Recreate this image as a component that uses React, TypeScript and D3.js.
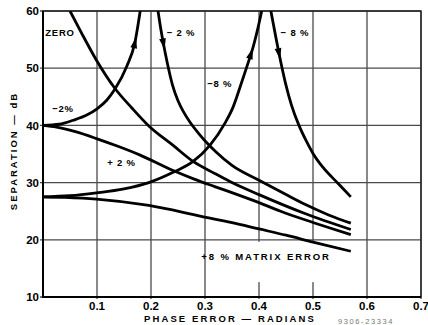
import React, { useEffect, useRef } from 'react'
import * as d3 from 'd3'

const W = 428
const H = 325

const xTicks = [0.1, 0.2, 0.3, 0.4, 0.5, 0.6, 0.7]
const yTicks = [10, 20, 30, 40, 50, 60]

// phase error (radians) / separation (dB)
const zeroX = [0.05, 0.07, 0.099, 0.133, 0.165, 0.196, 0.241, 0.278, 0.318, 0.346, 0.4, 0.485, 0.57]
const zeroY = [60, 56.4, 51.4, 46.5, 43.0, 39.9, 36.5, 33.7, 31.6, 30.2, 27.9, 24.6, 21.8]

const minus2UpX = [0, 0.03, 0.056, 0.081, 0.1, 0.118, 0.133, 0.155, 0.17, 0.18]
const minus2UpY = [40, 40.2, 40.9, 41.8, 42.9, 44.4, 46.3, 50.3, 54.4, 60]

const minus2DownX = [0.213, 0.217, 0.222, 0.23, 0.24, 0.25, 0.26, 0.272, 0.29, 0.306, 0.32, 0.35, 0.4, 0.45, 0.485, 0.53, 0.57]
const minus2DownY = [60, 57.5, 54.8, 51.0, 47.0, 44.3, 42.4, 40.6, 38.4, 36.7, 35.4, 33.0, 30.4, 27.9, 26.2, 24.3, 22.9]

const plus2X = [0, 0.025, 0.06, 0.099, 0.14, 0.18, 0.241, 0.28, 0.318, 0.36, 0.4, 0.44, 0.485, 0.53, 0.57]
const plus2Y = [40, 39.7, 38.9, 37.7, 36.3, 34.8, 32.1, 30.6, 29.3, 27.9, 26.5, 25.0, 23.5, 22.1, 20.9]

const minus8UpX = [0, 0.05, 0.099, 0.15, 0.196, 0.241, 0.278, 0.309, 0.337, 0.352, 0.365, 0.378, 0.39, 0.398, 0.405]
const minus8UpY = [27.5, 27.7, 28.2, 28.9, 30.0, 31.8, 33.7, 36.5, 40.4, 43.2, 46.7, 50.4, 54.0, 57.0, 60]

const minus8DownX = [0.422, 0.43, 0.437, 0.449, 0.46, 0.474, 0.488, 0.5, 0.519, 0.547, 0.57]
const minus8DownY = [60, 56.0, 52.6, 47.4, 43.6, 40.0, 37.2, 35.1, 32.6, 29.8, 27.5]

const plus8X = [0, 0.04, 0.099, 0.196, 0.293, 0.35, 0.4, 0.45, 0.5, 0.57]
const plus8Y = [27.5, 27.4, 27.1, 26.0, 24.1, 23.0, 21.9, 20.8, 19.6, 18.0]

const curves = [
    { xs: zeroX, ys: zeroY },
    { xs: minus2UpX, ys: minus2UpY },
    { xs: minus2DownX, ys: minus2DownY },
    { xs: plus2X, ys: plus2Y },
    { xs: minus8UpX, ys: minus8UpY },
    { xs: minus8DownX, ys: minus8DownY },
    { xs: plus8X, ys: plus8Y },
]

// arrowheads: which curve and at what phase error
const arrowCurve = [1, 2, 4, 5]
const arrowAt = [0.17, 0.223, 0.385, 0.437]

// curve labels in data units
const labelText = ['ZERO', '− 2 %', '−2%', '+ 2 %', '− 8 %', '−8 %', '+8 % MATRIX ERROR']
const labelX = [0.004, 0.229, 0.017, 0.119, 0.44, 0.304, 0.293]
const labelY = [55.6, 55.6, 42.3, 32.9, 55.6, 46.7, 16.5]

const font = "'Liberation Sans', Arial, sans-serif"

function interp(xs: number[], ys: number[], v: number) {
    let i = d3.bisectRight(xs, v)
    i = Math.max(1, Math.min(xs.length - 1, i))
    const t = (v - xs[i - 1]) / (xs[i] - xs[i - 1])
    return ys[i - 1] + t * (ys[i] - ys[i - 1])
}

export default function App() {
    const svgRef = useRef<SVGSVGElement | null>(null)

    useEffect(() => {
        const svg = d3.select(svgRef.current)
        svg.selectAll('*').remove()

        const x = d3.scaleLinear().domain([0, 0.7]).range([43, 421])
        const y = d3.scaleLinear().domain([10, 60]).range([297, 11])

        svg.append('rect').attr('width', W).attr('height', H).attr('fill', '#fff')

        // grid
        const grid = svg.append('g').attr('stroke', '#4a4a4a').attr('stroke-width', 1.3)
        grid.selectAll('line.v')
            .data(xTicks)
            .join('line')
            .attr('class', 'v')
            .attr('x1', (d) => x(d))
            .attr('x2', (d) => x(d))
            .attr('y1', y(60))
            .attr('y2', y(10) + 2)
        grid.selectAll('line.h')
            .data(yTicks)
            .join('line')
            .attr('class', 'h')
            .attr('x1', x(0) - 3)
            .attr('x2', x(0.7))
            .attr('y1', (d) => y(d))
            .attr('y2', (d) => y(d))

        // the grid is broken behind the matrix error label
        svg.append('rect')
            .attr('x', x(0.318))
            .attr('y', y(20) + 2)
            .attr('width', x(0.583) - x(0.318))
            .attr('height', y(12.6) - y(20) - 2)
            .attr('fill', '#fff')

        // frame
        svg.append('rect')
            .attr('x', x(0))
            .attr('y', y(60))
            .attr('width', x(0.7) - x(0))
            .attr('height', y(10) - y(60))
            .attr('fill', 'none')
            .attr('stroke', '#222')
            .attr('stroke-width', 1.4)
        svg.append('path')
            .attr('d', `M${x(0)},${y(60)}V${y(10)}H${x(0.7)}`)
            .attr('fill', 'none')
            .attr('stroke', '#000')
            .attr('stroke-width', 2)

        svg.append('clipPath')
            .attr('id', 'plot')
            .append('rect')
            .attr('x', x(0))
            .attr('y', y(60))
            .attr('width', x(0.7) - x(0))
            .attr('height', y(10) - y(60))

        const line = d3
            .line<[number, number]>()
            .x((d) => x(d[0]))
            .y((d) => y(d[1]))
            .curve(d3.curveMonotoneX)

        svg.append('g')
            .attr('clip-path', 'url(#plot)')
            .selectAll('path')
            .data(curves)
            .join('path')
            .attr('fill', 'none')
            .attr('stroke', '#000')
            .attr('stroke-width', 2.8)
            .attr('stroke-linejoin', 'round')
            .attr('d', (c) => line(c.xs.map((v, i) => [v, c.ys[i]] as [number, number])))

        // arrowheads pointing along the direction of increasing phase error
        arrowCurve.forEach((ci, k) => {
            const c = curves[ci]
            const v = arrowAt[k]
            const px = x(v)
            const py = y(interp(c.xs, c.ys, v))
            const dx = x(v + 0.002) - x(v - 0.002)
            const dy = y(interp(c.xs, c.ys, v + 0.002)) - y(interp(c.xs, c.ys, v - 0.002))
            const ang = (Math.atan2(dy, dx) * 180) / Math.PI
            svg.append('path')
                .attr('d', 'M6,0L-5,-3.4L-5,3.4Z')
                .attr('fill', '#000')
                .attr('transform', `translate(${px},${py}) rotate(${ang})`)
        })

        // tick labels
        svg.append('g')
            .selectAll('text')
            .data(yTicks)
            .join('text')
            .attr('x', x(0) - 4)
            .attr('y', (d) => y(d))
            .attr('dy', '0.36em')
            .attr('text-anchor', 'end')
            .attr('font-family', font)
            .attr('font-weight', 'bold')
            .attr('font-size', 11.5)
            .text((d) => d)
        svg.append('g')
            .selectAll('text')
            .data(xTicks)
            .join('text')
            .attr('x', (d) => x(d))
            .attr('y', 310)
            .attr('text-anchor', 'middle')
            .attr('font-family', font)
            .attr('font-weight', 'bold')
            .attr('font-size', 11.5)
            .text((d) => d.toFixed(1))

        // axis titles
        svg.append('text')
            .attr('x', 230)
            .attr('y', 322)
            .attr('text-anchor', 'middle')
            .attr('font-family', font)
            .attr('font-weight', 'bold')
            .attr('font-size', 9.5)
            .attr('letter-spacing', 2.1)
            .text('PHASE ERROR — RADIANS')
        svg.append('text')
            .attr('transform', `translate(17,151) rotate(-90)`)
            .attr('text-anchor', 'middle')
            .attr('font-family', font)
            .attr('font-weight', 'bold')
            .attr('font-size', 9.5)
            .attr('letter-spacing', 2)
            .text('SEPARATION — dB')

        // curve labels
        svg.append('g')
            .selectAll('text')
            .data(labelText)
            .join('text')
            .attr('x', (_, i) => x(labelX[i]))
            .attr('y', (_, i) => y(labelY[i]))
            .attr('font-family', font)
            .attr('font-weight', 'bold')
            .attr('font-size', 9.5)
            .attr('letter-spacing', (_, i) => (i === 6 ? 1.9 : 0.8))
            .text((d) => d)

        svg.append('text')
            .attr('x', 338)
            .attr('y', 323.5)
            .attr('font-family', font)
            .attr('font-size', 7.5)
            .attr('letter-spacing', 1.6)
            .attr('fill', '#777')
            .text('9306-23334')
    }, [])

    return <svg ref={svgRef} width={W} height={H} style={{ position: 'absolute', left: 0, top: 0 }} />
}
